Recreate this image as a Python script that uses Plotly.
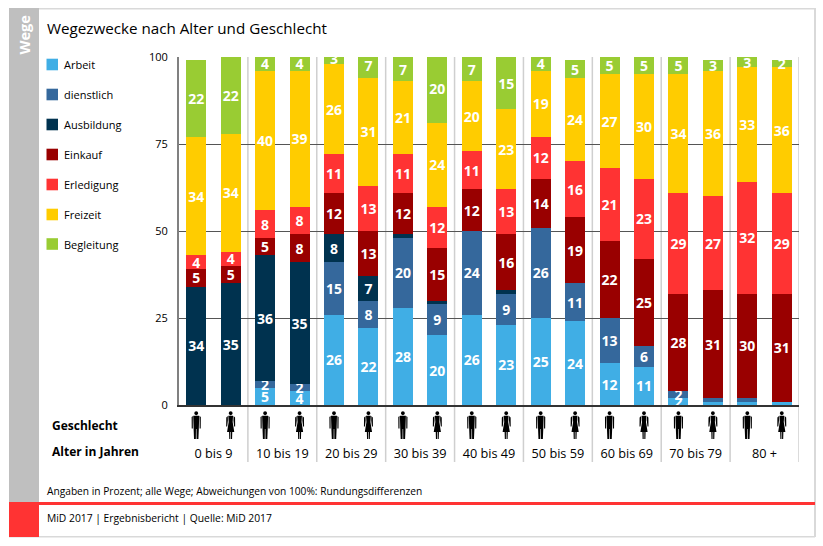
import plotly.graph_objects as go

age_groups = ["0 bis 9", "10 bis 19", "20 bis 29", "30 bis 39", "40 bis 49",
              "50 bis 59", "60 bis 69", "70 bis 79", "80 +"]
genders = ["m", "w"] * 9
purposes = ["Arbeit", "dienstlich", "Ausbildung", "Einkauf", "Erledigung", "Freizeit", "Begleitung"]
colors = ["#40AEE5", "#35689C", "#00324F", "#990000", "#FF3333", "#FFCC00", "#99CC33"]

arbeit     = [0, 0, 5, 4, 26, 22, 28, 20, 26, 23, 25, 24, 12, 11, 2, 1, 1, 1]
dienstlich = [0, 0, 2, 2, 15, 8, 20, 9, 24, 9, 26, 11, 13, 6, 2, 1, 1, 0]
ausbildung = [34, 35, 36, 35, 8, 7, 1, 1, 0, 1, 0, 0, 0, 0, 0, 0, 0, 0]
einkauf    = [5, 5, 5, 8, 12, 13, 12, 15, 12, 16, 14, 19, 22, 25, 28, 31, 30, 31]
erledigung = [4, 4, 8, 8, 11, 13, 11, 12, 11, 13, 12, 16, 21, 23, 29, 27, 32, 29]
freizeit   = [34, 34, 40, 39, 26, 31, 21, 24, 20, 23, 19, 24, 27, 30, 34, 36, 33, 36]
begleitung = [22, 22, 4, 4, 3, 7, 7, 20, 7, 15, 4, 5, 5, 5, 5, 3, 3, 2]
series = [arbeit, dienstlich, ausbildung, einkauf, erledigung, freizeit, begleitung]
y_ticks = [0, 25, 50, 75, 100]
title = "Wegezwecke nach Alter und Geschlecht"
note = "Angaben in Prozent; alle Wege; Abweichungen von 100%: Rundungsdifferenzen"
source = "MiD 2017 | Ergebnisbericht | Quelle: MiD 2017"

FONT = "Open Sans"
W, H = 823, 546
L, R, T, B = 179, 799, 57, 405


def px(x):
    return (x - L) / (R - L)


def py(y):
    return (B - y) / (B - T)


x_pos = list(range(18))
fig = go.Figure()
for name, col, vals in zip(purposes, colors, series):
    fig.add_bar(
        x=x_pos, y=vals, name=name, marker=dict(color=col, line=dict(width=0)),
        text=[str(v) if v >= 2 else "" for v in vals],
        textposition="inside", insidetextanchor="middle", textangle=0,
        constraintext="none",
        textfont=dict(family=FONT, size=14, color="white", weight="bold"),
        showlegend=False, hoverinfo="skip",
    )

shapes = []
ann = []


def rect(x0, y0, x1, y1, fill, layer="below"):
    shapes.append(dict(type="rect", xref="paper", yref="paper", x0=px(x0), x1=px(x1),
                       y0=py(y0), y1=py(y1), fillcolor=fill, line=dict(width=0), layer=layer))


def text(x, y, s, size=12, bold=False, color="#000000", anchor="left", angle=0):
    ann.append(dict(xref="paper", yref="paper", x=px(x), y=py(y), text=s, showarrow=False,
                    xanchor=anchor, yanchor="middle", textangle=angle, borderpad=0,
                    font=dict(family=FONT, size=size, color=color,
                              weight="bold" if bold else "normal")))


# Frame
rect(9, 8, 815, 9.5, "#D9D9D9")
rect(9, 536, 815, 537.5, "#D9D9D9")
rect(814, 8, 816, 537, "#D9D9D9")
rect(9, 8, 39, 503, "#BFBFBF")
rect(9, 503, 39, 537, "#FF3333")
rect(9, 502, 815, 505, "#FF3333")

# Group separators
for i in range(1, 10):
    shapes.append(dict(type="line", xref="x", yref="paper", x0=2 * i - 0.5, x1=2 * i - 0.5,
                       y0=py(462), y1=1, line=dict(color="#CFCFCF", width=1.5), layer="below"))


def poly(points):
    return "M" + " L".join(f"{x},{-y}" for x, y in points) + " Z"


def head(cy=8.2, r=2.0):
    k = 0.7 * r
    return poly([(0, cy - r), (k, cy - k), (r, cy), (k, cy + k), (0, cy + r), (-k, cy + k), (-r, cy), (-k, cy - k)])


man = " ".join([
    head(),
    poly([(-3.0, 10.8), (3.0, 10.8), (2.6, 24), (2.2, 34), (0.35, 34), (0.25, 24), (-0.25, 24),
          (-0.35, 34), (-2.2, 34), (-2.6, 24)]),
    poly([(3.4, 11), (4.6, 12), (4.5, 23.5), (3.4, 23.5)]),
    poly([(-3.4, 11), (-4.6, 12), (-4.5, 23.5), (-3.4, 23.5)]),
])
woman = " ".join([
    head(),
    poly([(-2.4, 10.8), (2.4, 10.8), (2.0, 17), (3.6, 27), (1.6, 27), (1.4, 34), (0.3, 34), (0.3, 27),
          (-0.3, 27), (-0.3, 34), (-1.4, 34), (-1.6, 27), (-3.6, 27), (-2.0, 17)]),
    poly([(2.9, 11), (4.4, 12.5), (4.5, 21.5), (3.5, 21.5), (2.8, 15.5)]),
    poly([(-2.9, 11), (-4.4, 12.5), (-4.5, 21.5), (-3.5, 21.5), (-2.8, 15.5)]),
])
for xi, g in zip(x_pos, genders):
    shapes.append(dict(type="path", xref="x", yref="paper", xsizemode="pixel", ysizemode="pixel",
                       xanchor=xi, yanchor=0, path=man if g == "m" else woman,
                       fillcolor="#000000", line=dict(width=0)))

# Texts
text(46, 28, title, size=15.2)
text(24, 35.5, "Wege", size=14.5, bold=True, color="white", anchor="center", angle=-90)
text(46, 491, note, size=10.2)
text(46, 517.5, source, size=10.3)
text(51, 425, "Geschlecht", size=12, bold=True)
text(51, 451, "Alter in Jahren", size=12, bold=True)

# Legend
legend_y = [64.5, 94.5, 124.5, 154.5, 184.5, 214.5, 244]
for name, col, ly in zip(purposes, colors, legend_y):
    rect(46.5, ly - 5.8, 58, ly + 5.8, col)
    text(63, ly, name, size=11)

fig.update_layout(
    width=W, height=H, margin=dict(l=L, r=W - R, t=T, b=H - B, pad=0),
    barmode="stack", bargap=0.42, paper_bgcolor="white", plot_bgcolor="white",
    shapes=shapes, annotations=ann, font=dict(family=FONT, color="#000000"),
    xaxis=dict(range=[-0.5, 17.5], tickmode="array", tickvals=[2 * i + 0.5 for i in range(9)],
               ticktext=age_groups, ticks="outside", ticklen=36, tickcolor="rgba(0,0,0,0)",
               tickfont=dict(size=12.7), showgrid=False, zeroline=False,
               showline=True, linecolor="#333333", linewidth=1.5, mirror=False),
    yaxis=dict(range=[0, 100], tickmode="array", tickvals=y_ticks, ticks="outside", ticklen=7,
               tickcolor="rgba(0,0,0,0)", tickfont=dict(size=11), gridcolor="#555555", gridwidth=1,
               zeroline=False, showline=True, linecolor="#808080", linewidth=2),
)
fig.write_html("out.html", config=dict(displayModeBar=False),
               post_script="document.body.style.margin='0';")
